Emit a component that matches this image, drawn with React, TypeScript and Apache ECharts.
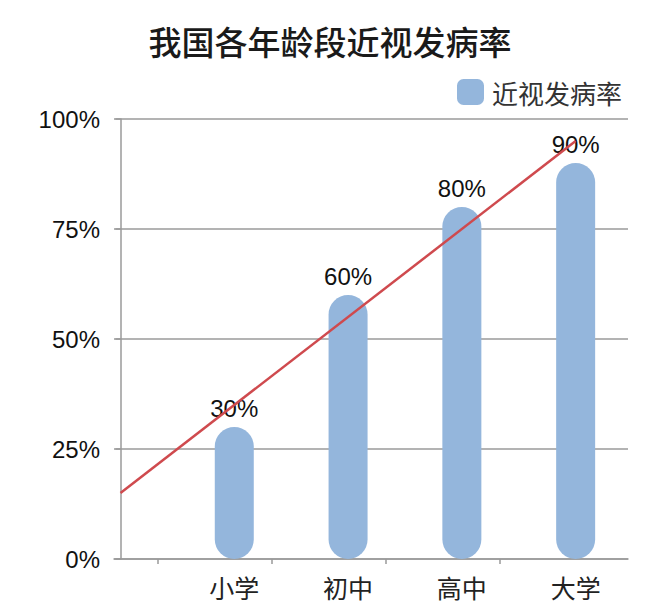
import { useEffect, useRef } from 'react';
import * as echarts from 'echarts';

// 各学段近视发病率（%）
const categories = ['小学', '初中', '高中', '大学'];
const rates = [30, 60, 80, 90];
// 线性趋势线的两端（x 为学段序号，0 为向前延伸一段）
const trendX = [0, 4];
const trendY = [15, 95];
const yTicks = [0, 25, 50, 75, 100];
// 分类轴刻度位于两柱之间偏左的位置
const xTickValues = [0.33, 1.33, 2.33, 3.33];

const NUM_FONT = '"Liberation Sans", Arial, sans-serif';
const CJK_FONT = '"Noto Sans CJK SC", "Noto Sans", sans-serif';
const GRID_COLOR = '#9a9a9a';

export default function App() {
  const chartRef = useRef<HTMLDivElement>(null);

  useEffect(() => {
    document.body.style.margin = '0';
    if (!chartRef.current) return;
    const chart = echarts.init(chartRef.current, undefined, { renderer: 'svg' });

    const option: echarts.EChartsOption = {
      animation: false,
      backgroundColor: '#ffffff',
      title: {
        text: '我国各年龄段近视发病率',
        left: 'center',
        top: 19,
        textStyle: {
          fontFamily: CJK_FONT,
          fontSize: 33,
          fontWeight: 500,
          color: '#1a1a1a',
        },
      },
      legend: {
        data: ['近视发病率'],
        left: 452,
        top: 74,
        icon: 'roundRect',
        itemWidth: 27,
        itemHeight: 26,
        textStyle: {
          fontFamily: CJK_FONT,
          fontSize: 26,
          color: '#333',
          padding: [0, 0, 0, 3],
        },
      },
      grid: {
        left: 114,
        right: 32,
        top: 119,
        bottom: 51,
        containLabel: false,
      },
      xAxis: {
        type: 'value',
        min: -0.057,
        max: 4.46,
        splitLine: { show: false },
        axisLine: { show: true, lineStyle: { color: GRID_COLOR, width: 1.5 } },
        axisTick: {
          show: true,
          length: 5,
          customValues: xTickValues,
          lineStyle: { color: GRID_COLOR, width: 1.5 },
        },
        axisLabel: {
          customValues: categories.map((_, i) => i + 1),
          formatter: (v: number) => categories[Math.round(v) - 1] ?? '',
          margin: 15,
          fontFamily: CJK_FONT,
          fontSize: 25,
          color: '#222',
        },
      },
      yAxis: {
        type: 'value',
        min: 0,
        max: 100,
        interval: 25,
        axisLine: { show: true, lineStyle: { color: GRID_COLOR, width: 1.5 } },
        axisTick: { show: true, length: 5, lineStyle: { color: GRID_COLOR, width: 1.5 } },
        splitLine: { show: true, lineStyle: { color: GRID_COLOR, width: 1.5 } },
        axisLabel: {
          margin: 14,
          fontFamily: NUM_FONT,
          fontSize: 24,
          color: '#111',
          formatter: (v: number) => (yTicks.includes(v) ? `${v}%` : ''),
        },
      },
      series: [
        {
          name: '近视发病率',
          type: 'bar',
          data: categories.map((_, i) => [i + 1, rates[i]]),
          barWidth: 39,
          itemStyle: {
            color: '#94b6dc',
            borderRadius: 19.5,
          },
          label: {
            show: true,
            position: 'top',
            distance: 7,
            fontFamily: NUM_FONT,
            fontSize: 24,
            color: '#111',
            formatter: (p: any) => `${p.value[1]}%`,
          },
          z: 2,
        },
        {
          name: '趋势线',
          type: 'line',
          data: trendX.map((x, i) => [x, trendY[i]]),
          symbol: 'none',
          lineStyle: { color: '#cf4a4e', width: 2.5 },
          z: 3,
        },
      ],
    };

    chart.setOption(option);

    return () => {
      chart.dispose();
    };
  }, []);

  return <div ref={chartRef} style={{ width: '660px', height: '610px' }} />;
}
